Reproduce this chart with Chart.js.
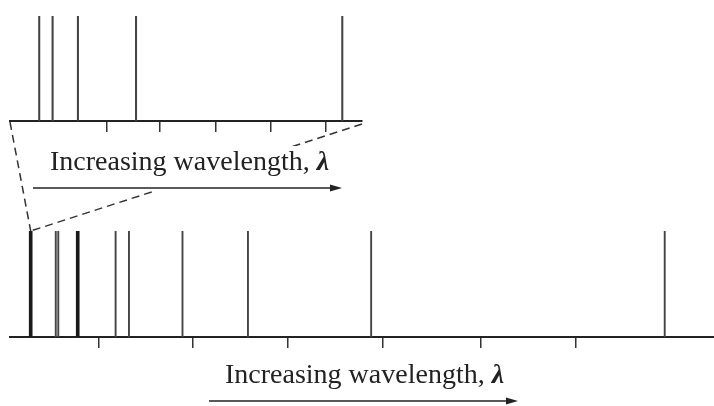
<!DOCTYPE html>
<html><head><meta charset="utf-8">
<script src="https://cdn.jsdelivr.net/npm/chart.js@4.4.1/dist/chart.umd.min.js"></script>
<style>
html,body{margin:0;padding:0;background:#fff;width:714px;height:406px;overflow:hidden;}
#wrap{position:relative;width:714px;height:406px;}
.box{position:absolute;}
.lbl{position:absolute;font-family:"Liberation Serif","DejaVu Serif",serif;font-size:28px;color:#222;white-space:nowrap;line-height:1;}
</style></head><body>
<div id="wrap">
<div class="box" style="left:0;top:0;width:372px;height:132px"><canvas id="topChart"></canvas></div>
<div class="box" id="botBox" style="left:0;top:220px;width:714px;height:128px"><canvas id="botChart"></canvas></div>
<canvas id="overlay" width="714" height="406" style="position:absolute;left:0;top:0"></canvas>
<div class="lbl" style="left:50px;top:147px">Increasing wavelength, <b><i>λ</i></b></div>
<div class="lbl" style="left:225px;top:360px">Increasing wavelength, <b><i>λ</i></b></div>
</div>
<script>
// Zoomed-in spectrum (top), positions in relative wavelength units (0-100)
const topLines = [8.3, 12.1, 19.3, 35.8, 94.4];
const topTicks = [27.6, 42.6, 58.4, 74.1, 89.7];
// Full spectrum (bottom)
const bottomThin = [6.5, 6.86, 15.0, 16.9, 24.5, 33.8, 51.3, 93.0];
const bottomThick = [2.94, 9.62];
const bottomTicks = [12.6, 26.0, 39.5, 52.9, 66.8, 80.3];

function xScale(ticks){
  return {
    type:'linear', min:0, max:100, offset:false,
    ticks:{display:false},
    grid:{offset:false, drawOnChartArea:false, drawTicks:true, tickLength:11, color:'#333', lineWidth:1.5},
    border:{display:true, color:'#222', width:2},
    afterBuildTicks:s=>{ s.ticks = ticks.map(v=>({value:v})); }
  };
}
const yScale = {min:0, max:1, display:false};
const common = {
  responsive:true, maintainAspectRatio:false, animation:false,
  plugins:{legend:{display:false}, tooltip:{enabled:false}},
  events:[]
};
function bars(vals, w, col){
  return {data:vals.map(v=>({x:v,y:1})), backgroundColor:col, barThickness:w, grouped:false, borderWidth:0};
}
const topChart = new Chart(document.getElementById('topChart'), {
  type:'bar',
  data:{datasets:[bars(topLines,1.4,'#444')]},
  options:Object.assign({}, common, {
    layout:{padding:{left:10,right:10,top:16,bottom:0}},
    scales:{x:xScale(topTicks), y:yScale}
  })
});
const botChart = new Chart(document.getElementById('botChart'), {
  type:'bar',
  data:{datasets:[bars(bottomThin,1.25,'#444'), bars(bottomThick,3,'#1a1a1a')]},
  options:Object.assign({}, common, {
    layout:{padding:{left:10,right:0,top:11,bottom:0}},
    scales:{x:xScale(bottomTicks), y:yScale}
  })
});

// overlay: zoom connector (dashed) + arrows
const ctx = document.getElementById('overlay').getContext('2d');
const ta = topChart.chartArea;
const botTop = 220;
const px = botChart.scales.x.getPixelForValue(bottomThick[0]);
const py = botChart.chartArea.top + botTop;
ctx.strokeStyle = '#333'; ctx.lineWidth = 1.5; ctx.setLineDash([8,5]);
ctx.beginPath(); ctx.moveTo(ta.left, ta.bottom+1); ctx.lineTo(px, py); ctx.stroke();
ctx.beginPath(); ctx.moveTo(ta.right, ta.bottom+3); ctx.lineTo(px, py); ctx.stroke();
ctx.setLineDash([]);
ctx.fillStyle = '#fff'; ctx.fillRect(40,146,310,45);
function arrow(x1,x2,y){
  ctx.strokeStyle='#222'; ctx.fillStyle='#222'; ctx.lineWidth=1.6;
  ctx.beginPath(); ctx.moveTo(x1,y); ctx.lineTo(x2-8,y); ctx.stroke();
  ctx.beginPath(); ctx.moveTo(x2,y); ctx.lineTo(x2-12,y-3.5); ctx.lineTo(x2-12,y+3.5); ctx.closePath(); ctx.fill();
}
arrow(33,342,188);
arrow(209,518,401);
</script>
</body></html>
